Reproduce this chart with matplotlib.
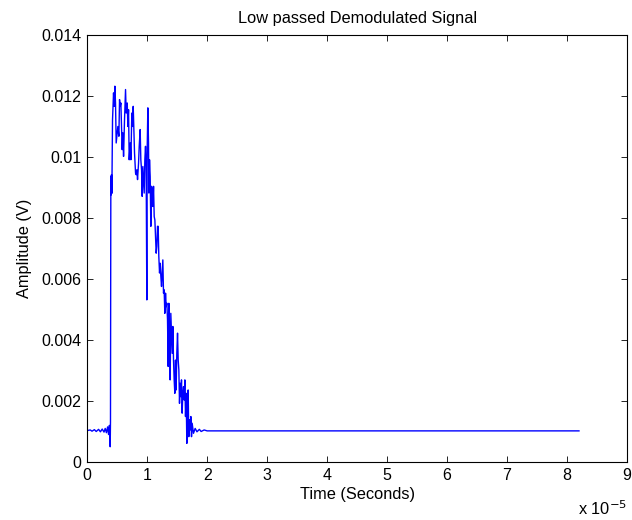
import matplotlib
matplotlib.use("Agg")
import matplotlib.pyplot as plt

plt.rcParams['font.family'] = ['Liberation Sans', 'DejaVu Sans']

# time in units of 1e-5 s, amplitude in volts
time_e5 = [0.0, 0.05, 0.08, 0.12, 0.15, 0.19, 0.22, 0.25, 0.28, 0.3, 0.32, 0.34,
           0.356, 0.37, 0.383, 0.388,
           0.394, 0.400, 0.405, 0.411, 0.422, 0.439, 0.45, 0.461, 0.472, 0.483,
           0.494, 0.511, 0.528, 0.539, 0.55, 0.561, 0.572, 0.583, 0.594, 0.606,
           0.622, 0.639, 0.65, 0.667, 0.678, 0.689, 0.7, 0.717, 0.728, 0.744,
           0.756, 0.767, 0.778, 0.789, 0.806, 0.817, 0.828, 0.839, 0.856, 0.867,
           0.883, 0.894, 0.906, 0.917, 0.928, 0.939, 0.95, 0.961, 0.972, 0.983,
           0.994, 1.0, 1.011, 1.022, 1.028, 1.039, 1.05, 1.061, 1.072, 1.083,
           1.094, 1.106, 1.117, 1.128, 1.139, 1.15, 1.161, 1.172, 1.183, 1.194,
           1.206, 1.217, 1.228, 1.239, 1.25, 1.261, 1.272, 1.283, 1.294, 1.306,
           1.317, 1.328, 1.339, 1.35, 1.361, 1.372, 1.383, 1.394, 1.406, 1.417,
           1.428, 1.439, 1.45, 1.461, 1.472, 1.483, 1.494, 1.506, 1.517, 1.528,
           1.539, 1.55, 1.561, 1.572, 1.583, 1.594, 1.606, 1.617, 1.628, 1.639,
           1.65, 1.661, 1.672, 1.683, 1.694, 1.706, 1.717, 1.728, 1.739, 1.75,
           1.772, 1.8, 1.83, 1.87, 1.9, 1.95, 2.0, 8.2]
amplitude = [0.00103, 0.00105, 0.00101, 0.00106, 0.00100, 0.00107, 0.00099, 0.00108,
             0.00098, 0.00110, 0.00096, 0.00115,
             0.00090, 0.00120, 0.00050, 0.00132,
             0.00936, 0.00875, 0.00941, 0.00880, 0.01121, 0.01209, 0.01165, 0.01231,
             0.01176, 0.01045, 0.01067, 0.01099, 0.01067, 0.01187, 0.01165, 0.01176,
             0.01099, 0.01023, 0.01078, 0.01001, 0.01121, 0.01220, 0.01143, 0.01176,
             0.01099, 0.01154, 0.00990, 0.01045, 0.00990, 0.01143, 0.01099, 0.01165,
             0.01089, 0.01012, 0.00946, 0.00941, 0.00957, 0.00925, 0.00979, 0.01034,
             0.01089, 0.00990, 0.00957, 0.00870, 0.00968, 0.00925, 0.00881, 0.00990,
             0.01034, 0.00968, 0.00531, 0.01023, 0.01160, 0.01045, 0.00881, 0.00990,
             0.00935, 0.00772, 0.00903, 0.00892, 0.00837, 0.00903, 0.00804, 0.00793,
             0.00739, 0.00684, 0.00706, 0.00772, 0.00772, 0.00673, 0.00619, 0.00651,
             0.00608, 0.00575, 0.00619, 0.00662, 0.00553, 0.00564, 0.00487, 0.00553,
             0.00509, 0.00520, 0.00466, 0.00313, 0.00520, 0.00444, 0.00269, 0.00487,
             0.00422, 0.00356, 0.00444, 0.00334, 0.00269, 0.00225, 0.00334, 0.00236,
             0.00356, 0.00422, 0.00334, 0.00302, 0.00192, 0.00258, 0.00214, 0.00269,
             0.00160, 0.00225, 0.00247, 0.00203, 0.00269, 0.00149, 0.00225, 0.00061,
             0.00160, 0.00236, 0.00083, 0.00138, 0.00105, 0.00149, 0.00083, 0.00127,
             0.00094, 0.00110, 0.00099, 0.00107, 0.00100, 0.00105, 0.00102, 0.00102]

y_ticks = [0, 0.002, 0.004, 0.006, 0.008, 0.01, 0.012, 0.014]
y_labels = ['0', '0.002', '0.004', '0.006', '0.008', '0.01', '0.012', '0.014']
x_ticks = list(range(0, 10))

fig = plt.figure(figsize=(6.32, 5.2), dpi=100)
ax = fig.add_axes([0.138, 0.1115, 0.854, 0.822])

ax.plot(time_e5, amplitude, '-', color='#0000ff', linewidth=1.0)

ax.set_xlim(0, 9)
ax.set_ylim(0, 0.014)
ax.set_xticks(x_ticks)
ax.set_xticklabels([str(v) for v in x_ticks])
ax.set_yticks(y_ticks)
ax.set_yticklabels(y_labels)
ax.tick_params(direction='in', top=True, right=True, length=4, width=0.6,
               labelsize=11.5, pad=4)
for s in ax.spines.values():
    s.set_linewidth(0.8)

ax.set_title('Low passed Demodulated Signal', fontsize=11.8, pad=8)
ax.set_xlabel('Time (Seconds)', fontsize=11.8, labelpad=3)
ax.set_ylabel('Amplitude (V)', fontsize=11.8, labelpad=7)
ax.text(1.0, -0.088, r'x 10$^{-5}$', transform=ax.transAxes, ha='right',
        va='top', fontsize=11.8)

fig.savefig('out.png', dpi=100)
